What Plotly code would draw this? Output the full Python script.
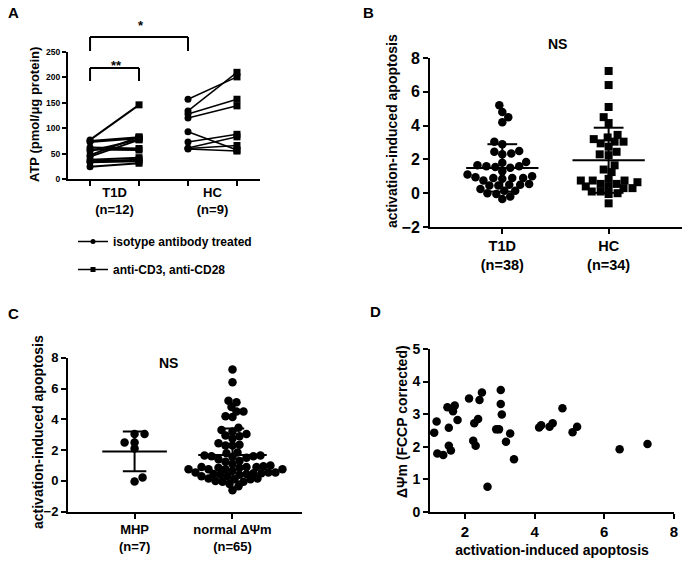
import numpy as np
import plotly.graph_objects as go

W, H = 685, 562
FONT = "Liberation Sans, Arial, sans-serif"

# ---------------- data ----------------
# Panel A : ATP (pmol/ug protein), paired isotype vs anti-CD3/CD28
atp_t1d_iso = [77, 75, 73, 62, 58, 55, 47, 44, 38, 35, 33, 24]
atp_t1d_cd3 = [146, 82, 80, 60, 57, 78, 83, 77, 42, 38, 35, 31]
atp_hc_iso = [157, 134, 128, 120, 93, 73, 61, 60, 59]
atp_hc_cd3 = [201, 210, 157, 144, 57, 88, 83, 66, 55]
a_groups = ["T1D<br>(n=12)", "HC<br>(n=9)"]
a_legend = ["isotype antibody treated", "anti-CD3, anti-CD28"]

# Panel B : activation-induced apoptosis
b_t1d = [5.2, 4.8, 4.5, 4.2, 3.05, 2.9, 2.5, 2.45, 2.35, 2.3, 1.85, 1.8, 1.65, 1.6,
         1.6, 1.55, 1.5, 1.3, 1.1, 1.0, 0.95, 0.9, 0.9, 0.9, 0.85, 0.75, 0.55, 0.5,
         0.5, 0.45, 0.45, 0.25, 0.15, 0.15, 0.0, -0.05, -0.2, -0.35]
b_hc = [7.23, 6.4, 5.1, 4.5, 4.15, 3.45, 3.3, 3.2, 3.05, 3.05, 2.95, 2.75, 2.45,
        2.3, 2.25, 1.65, 1.4, 1.25, 0.85, 0.75, 0.75, 0.75, 0.65, 0.55, 0.55, 0.4,
        0.4, 0.3, 0.3, 0.1, 0.1, 0.0, -0.05, -0.6]
b_groups = ["T1D<br>(n=38)", "HC<br>(n=34)"]

# Panel C : MHP vs normal membrane potential
c_mhp = [3.05, 3.05, 2.5, 2.5, 2.1, 0.22, -0.04]
c_normal = [7.23, 6.4, 5.2, 5.1, 4.8, 4.5, 4.5, 4.2, 4.15, 3.45, 3.3, 3.2, 3.05,
            2.95, 2.9, 2.75, 2.45, 2.35, 2.3, 2.3, 1.85, 1.8, 1.65, 1.65, 1.6, 1.6,
            1.55, 1.5, 1.4, 1.3, 1.25, 1.1, 1.0, 0.95, 0.9, 0.9, 0.9, 0.85, 0.85,
            0.75, 0.75, 0.75, 0.75, 0.65, 0.55, 0.55, 0.55, 0.5, 0.5, 0.45, 0.45,
            0.4, 0.4, 0.3, 0.3, 0.15, 0.15, 0.1, 0.1, 0.0, -0.05, -0.05, -0.2,
            -0.35, -0.6]
c_groups = ["MHP<br>(n=7)", "normal ΔΨm<br>(n=65)"]

# Panel D : scatter
d_apoptosis = [0.99, 1.12, 1.19, 1.21, 1.38, 1.5, 1.54, 1.54, 1.6, 1.66, 1.71, 1.79,
               2.12, 2.24, 2.27, 2.31, 2.38, 2.42, 2.49, 2.65, 2.9, 2.98, 3.03, 3.03,
               3.06, 3.18, 3.3, 3.41, 4.13, 4.19, 4.43, 4.52, 4.8, 5.09, 5.22, 6.44, 7.24]
d_dpsi = [2.48, 2.43, 2.77, 1.79, 1.74, 3.21, 2.58, 2.03, 1.88, 3.09, 3.26, 2.82,
          3.48, 2.18, 2.72, 2.03, 2.85, 3.43, 3.66, 0.77, 2.53, 2.53, 3.74, 3.31,
          2.99, 2.15, 2.4, 1.61, 2.59, 2.66, 2.61, 2.72, 3.18, 2.44, 2.61, 1.92, 2.08]


# ---------------- helpers ----------------
def px(x):
    return x / W


def py(y):
    return 1 - y / H


def swarm(vals, xu_per_px, yu_per_px, ax_px, ay_px):
    """deterministic beeswarm with elliptical collision (GraphPad-like rows)."""
    vals = np.asarray(vals, float)
    order = np.argsort(vals, kind="stable")
    placed = []
    offs = np.zeros(len(vals))
    toggle = 1
    for i in order:
        ypx = vals[i] / yu_per_px
        done = False
        for k in range(0, 300):
            cands = [0] if k == 0 else [toggle * k, -toggle * k]
            for c in cands:
                ok = all(((c - qx) / ax_px) ** 2 + ((ypx - qy) / ay_px) ** 2 >= 1
                         for qx, qy in placed)
                if ok:
                    placed.append((c, ypx))
                    offs[i] = c * xu_per_px
                    if k > 0:
                        toggle = -toggle
                    done = True
                    break
            if done:
                break
    return offs


def mean_sd_traces(center, vals, half_mean, half_cap, xa, ya):
    v = np.array(vals, float)
    m = v.mean()
    s = v.std(ddof=1)
    xs = [center - half_mean, center + half_mean, None,
          center, center, None,
          center - half_cap, center + half_cap, None,
          center - half_cap, center + half_cap]
    ys = [m, m, None, m - s, m + s, None, m + s, m + s, None, m - s, m - s]
    return go.Scatter(x=xs, y=ys, mode="lines", line=dict(color="black", width=2),
                      xaxis=xa, yaxis=ya, showlegend=False, hoverinfo="skip")


fig = go.Figure()

# ---------------- Panel A ----------------
def paired(iso, cd3, x0, width):
    xs, ys, sy = [], [], []
    for a, b in zip(iso, cd3):
        xs += [x0, x0 + 1, None]
        ys += [a, b, None]
        sy += ["circle", "square", "circle"]
    return go.Scatter(x=xs, y=ys, mode="lines+markers",
                      line=dict(color="black", width=width),
                      marker=dict(color="black", size=7, symbol=sy),
                      xaxis="x", yaxis="y", showlegend=False, hoverinfo="skip",
                      cliponaxis=False)


fig.add_trace(paired(atp_t1d_iso, atp_t1d_cd3, 0, 2))
fig.add_trace(paired(atp_hc_iso, atp_hc_cd3, 2, 1.5))
fig.add_trace(go.Scatter(x=[None], y=[None], mode="lines+markers", name=a_legend[0],
                         line=dict(color="black", width=1.5),
                         marker=dict(color="black", size=5, symbol="circle"),
                         xaxis="x", yaxis="y", legendgroup="g1"))
fig.add_trace(go.Scatter(x=[None], y=[None], mode="lines+markers", name=a_legend[1],
                         line=dict(color="black", width=1.5),
                         marker=dict(color="black", size=5, symbol="square"),
                         xaxis="x", yaxis="y", legendgroup="g2"))

# ---------------- Panel B ----------------
bxu, byu = 1 / 107.0, 1 / 16.9
off_t = swarm(b_t1d, bxu, byu, 8.5, 7.0)
off_h = swarm(b_hc, bxu, byu, 8.5, 7.0)
fig.add_trace(go.Scatter(x=0 + off_t, y=b_t1d, mode="markers",
                         marker=dict(color="black", size=8.5, symbol="circle"),
                         xaxis="x2", yaxis="y2", showlegend=False, hoverinfo="skip"))
fig.add_trace(go.Scatter(x=1 + off_h, y=b_hc, mode="markers",
                         marker=dict(color="black", size=8, symbol="square"),
                         xaxis="x2", yaxis="y2", showlegend=False, hoverinfo="skip"))
fig.add_trace(mean_sd_traces(0, b_t1d, 0.34, 0.14, "x2", "y2"))
fig.add_trace(mean_sd_traces(1, b_hc, 0.34, 0.14, "x2", "y2"))

# ---------------- Panel C ----------------
cxu, cyu = 1 / 98.0, 1 / 15.4
off_m = swarm(c_mhp, cxu, cyu, 9.5, 6.0)
off_n = swarm(c_normal, cxu, cyu, 7.0, 6.5)
fig.add_trace(go.Scatter(x=0 + off_m, y=c_mhp, mode="markers",
                         marker=dict(color="black", size=8.5),
                         xaxis="x3", yaxis="y3", showlegend=False, hoverinfo="skip"))
fig.add_trace(go.Scatter(x=1 + off_n, y=c_normal, mode="markers",
                         marker=dict(color="black", size=8.5),
                         xaxis="x3", yaxis="y3", showlegend=False, hoverinfo="skip"))
fig.add_trace(mean_sd_traces(0, c_mhp, 0.33, 0.12, "x3", "y3"))
fig.add_trace(mean_sd_traces(1, c_normal, 0.35, 0.12, "x3", "y3"))

# ---------------- Panel D ----------------
fig.add_trace(go.Scatter(x=d_apoptosis, y=d_dpsi, mode="markers",
                         marker=dict(color="black", size=8.5),
                         xaxis="x4", yaxis="y4", showlegend=False, hoverinfo="skip",
                         cliponaxis=False))

# ---------------- axes ----------------
def ax(domain, rng, anchor, size, **kw):
    d = dict(domain=domain, range=rng, anchor=anchor, showline=True, linecolor="black",
             linewidth=2, ticks="outside", tickwidth=2, ticklen=5, tickcolor="black",
             showgrid=False, zeroline=False, automargin=False,
             tickfont=dict(family=FONT, size=size, color="black", weight="bold"))
    d.update(kw)
    return d


def ttl(text, size, standoff):
    return dict(text=text, standoff=standoff,
                font=dict(family=FONT, size=size, color="black", weight="bold"))


layout_axes = dict(
    xaxis=ax([px(68), px(260)], [-0.45, 3.47], "y", 13, tickvals=[0.5, 2.5],
             ticktext=a_groups, ticks="",
             minor=dict(tickmode="array", tickvals=[0, 1, 2, 3], ticks="outside",
                        ticklen=5, tickwidth=2, tickcolor="black")),
    yaxis=ax([py(179), py(52)], [0, 250], "x", 8.5,
             tickvals=[0, 50, 100, 150, 200, 250], ticklen=4),
    xaxis2=ax([px(430), px(682)], [-0.68, 1.69], "y2", 14.5, tickvals=[0, 1],
              ticktext=b_groups),
    yaxis2=ax([py(227), py(58)], [-2, 8], "x2", 16, tickvals=[-2, 0, 2, 4, 6, 8]),
    xaxis3=ax([px(68), px(302)], [-0.68, 1.71], "y3", 13, tickvals=[0, 1],
              ticktext=c_groups),
    yaxis3=ax([py(511.7), py(357.7)], [-2, 8], "x3", 13, tickvals=[-2, 0, 2, 4, 6, 8]),
    xaxis4=ax([px(430), px(674)], [1, 8], "y4", 15, tickvals=[2, 4, 6, 8],
              title=ttl("activation-induced apoptosis", 14, 6)),
    yaxis4=ax([py(511.7), py(349)], [0, 5], "x4", 14, tickvals=[0, 1, 2, 3, 4, 5]),
)

# ---------------- annotations / shapes ----------------
def txt(x, y, s, size, **kw):
    d = dict(x=px(x), y=py(y), xref="paper", yref="paper", text=s, showarrow=False,
             xanchor="center", yanchor="middle",
             font=dict(family=FONT, size=size, color="black", weight="bold"))
    d.update(kw)
    return d


annotations = [
    txt(13, 13, "A", 15),
    txt(368, 13, "B", 15),
    txt(13, 313, "C", 15),
    txt(375, 311, "D", 15),
    txt(557, 44, "NS", 14),
    txt(168, 363, "NS", 14),
    txt(141, 25, "*", 13),
    txt(116, 65, "**", 13),
    # y-axis titles
    txt(35, 115, "ATP (pmol/μg protein)", 13, textangle=-90),
    txt(392, 131, "activation-induced apoptosis", 14, textangle=-90),
    txt(38, 432, "activation-induced apoptosis", 14, textangle=-90),
    txt(402, 422, "ΔΨm (FCCP corrected)", 14, textangle=-90),
]

shapes = [
    # '*' bracket (T1D vs HC)
    dict(type="line", xref="x", yref="paper", x0=0, x1=0, y0=py(51), y1=py(37)),
    dict(type="line", xref="x", yref="paper", x0=0, x1=2, y0=py(37), y1=py(37)),
    dict(type="line", xref="x", yref="paper", x0=2, x1=2, y0=py(51), y1=py(37)),
    # '**' bracket (within T1D)
    dict(type="line", xref="x", yref="paper", x0=0, x1=0, y0=py(81), y1=py(68)),
    dict(type="line", xref="x", yref="paper", x0=0, x1=1, y0=py(68), y1=py(68)),
    dict(type="line", xref="x", yref="paper", x0=1, x1=1, y0=py(81), y1=py(68)),
]
for s in shapes:
    s["line"] = dict(color="black", width=2)

fig.update_layout(
    width=W, height=H, margin=dict(l=0, r=0, t=0, b=0, autoexpand=False),
    paper_bgcolor="white", plot_bgcolor="white",
    font=dict(family=FONT, color="black"),
    showlegend=True,
    legend=dict(x=px(73), y=py(227), xanchor="left", yanchor="top",
                font=dict(family=FONT, size=12, color="black", weight="bold"),
                tracegroupgap=9, itemwidth=30, bgcolor="rgba(0,0,0,0)"),
    annotations=annotations, shapes=shapes,
    **layout_axes,
)

fig.write_html("out.html", config={"displayModeBar": False},
               post_script="document.body.style.margin='0';"
                           "document.body.style.overflow='hidden';")
